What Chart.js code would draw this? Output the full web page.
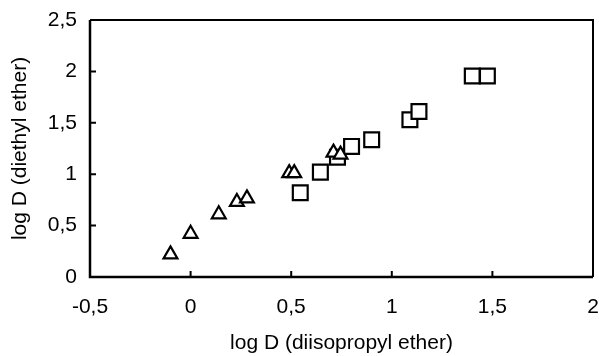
<!DOCTYPE html>
<html>
<head>
<meta charset="utf-8">
<script src="https://cdn.jsdelivr.net/npm/chart.js@4/dist/chart.umd.min.js"></script>
<style>
  html, body { margin: 0; padding: 0; background: #fff; }
  #wrap { width: 599px; height: 356px; }
</style>
</head>
<body>
<div id="wrap"><canvas id="chart"></canvas></div>
<script>
// values
const triangleX = [-0.1, 0.0, 0.14, 0.23, 0.28, 0.49, 0.515, 0.71, 0.745];
const triangleY = [0.22, 0.42, 0.61, 0.73, 0.765, 1.01, 1.01, 1.21, 1.19];
const squareX = [0.545, 0.645, 0.73, 0.80, 0.90, 1.09, 1.135, 1.40, 1.475];
const squareY = [0.82, 1.02, 1.165, 1.27, 1.335, 1.53, 1.61, 1.955, 1.955];
const xTicks = [-0.5, 0, 0.5, 1, 1.5, 2];
const yTicks = [0, 0.5, 1, 1.5, 2, 2.5];
const X_TITLE = "log D (diisopropyl ether)";
const Y_TITLE = "log D (diethyl ether)";

const FONT = "'Liberation Sans', Arial, sans-serif";
const FONT_SIZE = 21;
const CHART_LEFT = 90;
const CHART_BOTTOM = 277;

function toPoints(xs, ys) {
  return xs.map((x, i) => ({ x: x, y: ys[i] }));
}

function commaLabel(v) {
  return String(v).replace('.', ',');
}

// frame + inward tick marks, placed with the chart's own scales
const framePlugin = {
  id: 'frame',
  afterDraw(chart) {
    const { ctx, chartArea: a, scales } = chart;
    ctx.save();
    ctx.strokeStyle = '#000';
    ctx.lineWidth = 2;
    ctx.beginPath();
    ctx.moveTo(a.left, a.top);
    ctx.lineTo(a.right, a.top);
    ctx.lineTo(a.right, a.bottom);
    ctx.stroke();
    ctx.lineWidth = 2.5;
    ctx.beginPath();
    ctx.moveTo(a.left, a.top);
    ctx.lineTo(a.left, a.bottom);
    ctx.lineTo(a.right, a.bottom);
    ctx.stroke();
    ctx.lineWidth = 2;
    ctx.beginPath();
    xTicks.slice(1, -1).forEach(v => {
      const px = scales.x.getPixelForValue(v);
      ctx.moveTo(px, a.bottom);
      ctx.lineTo(px, a.bottom - 6);
    });
    yTicks.slice(1, -1).forEach(v => {
      const py = scales.y.getPixelForValue(v);
      ctx.moveTo(a.left, py);
      ctx.lineTo(a.left + 6, py);
    });
    ctx.stroke();
    ctx.restore();
  }
};

new Chart(document.getElementById('chart'), {
  type: 'scatter',
  data: {
    datasets: [
      {
        label: 'triangles',
        data: toPoints(triangleX, triangleY),
        pointStyle: 'triangle',
        pointRadius: 8,
        pointHoverRadius: 8,
        pointBorderWidth: 2.2,
        borderColor: '#000',
        backgroundColor: '#fff'
      },
      {
        label: 'squares',
        data: toPoints(squareX, squareY),
        pointStyle: 'rect',
        pointRadius: 10.5,
        pointHoverRadius: 10.5,
        pointBorderWidth: 2.2,
        borderColor: '#000',
        backgroundColor: '#fff'
      }
    ]
  },
  options: {
    responsive: true,
    maintainAspectRatio: false,
    animation: false,
    events: [],
    layout: { autoPadding: false, padding: { left: 0, right: 6, top: 20, bottom: 0 } },
    plugins: {
      legend: { display: false },
      tooltip: { enabled: false }
    },
    scales: {
      x: {
        type: 'linear',
        min: -0.5,
        max: 2,
        afterBuildTicks: s => { s.ticks = xTicks.map(v => ({ value: v })); },
        afterFit: s => {
          s.height = 356 - CHART_BOTTOM;
          s.paddingLeft = 0;
          s.paddingRight = 0;
        },
        grid: { display: false, drawTicks: false },
        border: { display: false },
        ticks: {
          color: '#000',
          padding: 18,
          maxRotation: 0,
          font: { family: FONT, size: FONT_SIZE },
          callback: v => commaLabel(v)
        },
        title: {
          display: true,
          text: X_TITLE,
          color: '#000',
          font: { family: FONT, size: FONT_SIZE },
          padding: { top: 0, bottom: 0 }
        }
      },
      y: {
        type: 'linear',
        min: 0,
        max: 2.5,
        afterBuildTicks: s => { s.ticks = yTicks.map(v => ({ value: v })); },
        afterFit: s => {
          s.width = CHART_LEFT;
          s.paddingTop = 0;
          s.paddingBottom = 0;
        },
        grid: { display: false, drawTicks: false },
        border: { display: false },
        ticks: {
          color: '#000',
          padding: 13,
          font: { family: FONT, size: FONT_SIZE },
          callback: v => commaLabel(v)
        },
        title: {
          display: true,
          text: Y_TITLE,
          color: '#000',
          font: { family: FONT, size: FONT_SIZE },
          padding: { top: 8, bottom: 0 }
        }
      }
    }
  },
  plugins: [framePlugin]
});
</script>
</body>
</html>
